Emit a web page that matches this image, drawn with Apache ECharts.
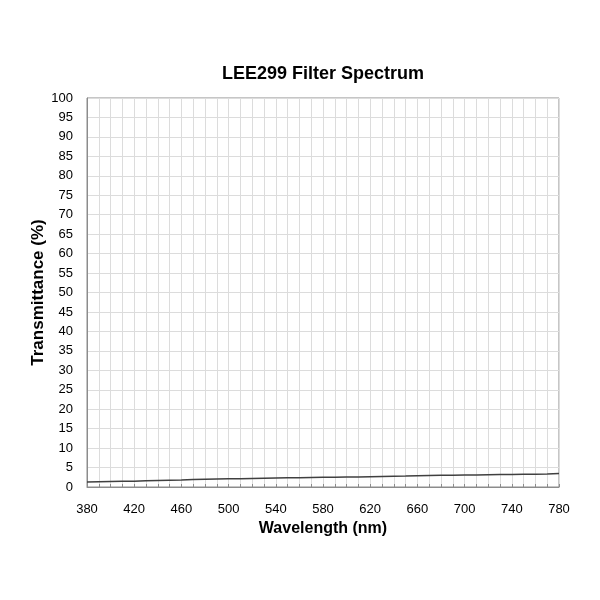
<!DOCTYPE html>
<html>
<head>
<meta charset="utf-8">
<script src="https://cdn.jsdelivr.net/npm/echarts@6/dist/echarts.min.js"></script>
<style>
  html, body { margin: 0; padding: 0; background: #fff; }
  #main { width: 600px; height: 600px; }
</style>
</head>
<body>
<div id="main"></div>
<script>
// wavelength (nm) every 10 nm
var wavelengths = [380, 390, 400, 410, 420, 430, 440, 450, 460, 470, 480, 490, 500, 510, 520, 530, 540, 550, 560, 570, 580,
                   590, 600, 610, 620, 630, 640, 650, 660, 670, 680, 690, 700, 710, 720, 730, 740, 750, 760, 770, 780];
// transmittance (%)
var transmittance = [1.3, 1.35, 1.4, 1.45, 1.5, 1.6, 1.7, 1.75, 1.8, 1.9, 2.0, 2.05, 2.1, 2.15, 2.2, 2.25, 2.3, 2.35, 2.4, 2.45, 2.5,
                     2.5, 2.55, 2.55, 2.65, 2.7, 2.75, 2.8, 2.9, 2.95, 3.0, 3.05, 3.1, 3.1, 3.15, 3.2, 3.2, 3.25, 3.3, 3.35, 3.45];

var points = wavelengths.map(function (w, i) { return [w, transmittance[i]]; });

var myChart = echarts.init(document.getElementById('main'));
var font = '"Liberation Sans", Arial, sans-serif';
var option = {
    backgroundColor: '#fff',
    animation: false,
    title: {
        text: 'LEE299 Filter Spectrum',
        left: 318,
        top: 60,
        textAlign: 'center',
        textStyle: { fontFamily: font, fontSize: 18, fontWeight: 'bold', color: '#000' }
    },
    grid: {
        left: 87,
        right: 41,
        top: 98,
        bottom: 113,
        show: true,
        borderColor: '#8c8c8c',
        borderWidth: 1
    },
    xAxis: {
        type: 'value',
        min: 380,
        max: 780,
        interval: 10,
        name: 'Wavelength (nm)',
        nameLocation: 'middle',
        nameGap: 31,
        nameTextStyle: { fontFamily: font, fontSize: 16, fontWeight: 'bold', color: '#000' },
        axisLine: { show: true, lineStyle: { color: '#8c8c8c' } },
        axisTick: { show: true, inside: true, length: 3, lineStyle: { color: '#8c8c8c' } },
        axisLabel: {
            fontFamily: font, fontSize: 13, color: '#000', margin: 16,
            formatter: function (v) { return (v - 380) % 40 === 0 ? String(v) : ''; }
        },
        splitLine: { show: true, lineStyle: { color: '#dcdcdc' } }
    },
    yAxis: {
        type: 'value',
        min: 0,
        max: 100,
        interval: 5,
        name: 'Transmittance (%)',
        nameLocation: 'middle',
        nameGap: 40,
        nameMoveOverlap: false,
        nameTextStyle: { fontFamily: font, fontSize: 17, fontWeight: 'bold', color: '#000' },
        axisLine: { show: true, lineStyle: { color: '#8c8c8c' } },
        axisTick: { show: false },
        axisLabel: { fontFamily: font, fontSize: 13, color: '#000', margin: 14 },
        splitLine: { show: true, lineStyle: { color: '#dcdcdc' } }
    },
    series: [
        {
            type: 'line',
            data: points,
            symbol: 'none',
            lineStyle: { color: '#404040', width: 1.5 }
        }
    ]
};
myChart.setOption(option);
</script>
</body>
</html>
